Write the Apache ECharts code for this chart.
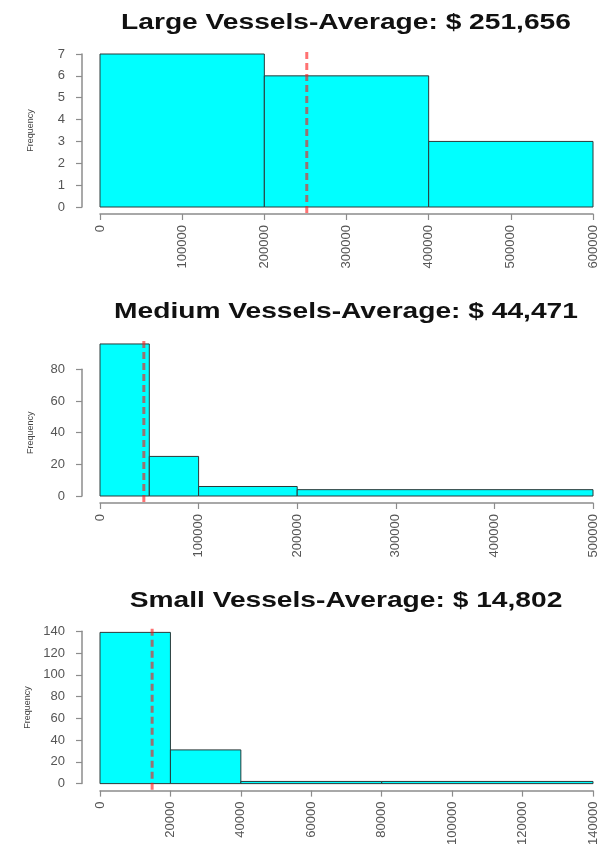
<!DOCTYPE html>
<html>
<head>
<meta charset="utf-8">
<script src="https://cdn.jsdelivr.net/npm/echarts@6/dist/echarts.min.js"></script>
<style>
html,body{margin:0;padding:0;background:#fff;}
#chart{width:614px;height:848px;}
</style>
</head>
<body>
<div id="chart"></div>
<script>
// ---- data ----
const titles = [
  'Large Vessels-Average: $ 251,656',
  'Medium Vessels-Average: $ 44,471',
  'Small Vessels-Average: $ 14,802'
];
const largeBreaks = [0, 200000, 400000, 600000];
const largeFreq = [7, 6, 3];
const largeMean = 251656;

const mediumBreaks = [0, 50000, 100000, 200000, 500000];
const mediumFreq = [96, 25, 6, 4];
const mediumMean = 44471;

const smallBreaks = [0, 20000, 40000, 80000, 140000];
const smallFreq = [139, 31, 2, 2];
const smallMean = 14802;

const xTicks = [
  {max: 600000, interval: 100000},
  {max: 500000, interval: 100000},
  {max: 140000, interval: 20000}
];
const yTicks = [
  {max: 7, interval: 1},
  {max: 80, interval: 20},
  {max: 140, interval: 20}
];
const yName = 'Frequency';

// ---- layout ----
const grids = [
  {left: 100, right: 21, top: 54, height: 153},
  {left: 100, right: 21, top: 369.3, height: 126.7},
  {left: 100, right: 21, top: 631.3, height: 153.7}
];
const titleY = [22.8, 311.8, 601];

const panels = [
  {breaks: largeBreaks, freq: largeFreq, mean: largeMean},
  {breaks: mediumBreaks, freq: mediumFreq, mean: mediumMean},
  {breaks: smallBreaks, freq: smallFreq, mean: smallMean}
];

const axisColor = '#8c8c8c';
const labelColor = '#555';
const fontFamily = '"Liberation Sans", Arial, sans-serif';

const xAxes = [], yAxes = [], series = [], graphics = [];
panels.forEach((p, i) => {
  xAxes.push({
    type: 'value', gridIndex: i, min: 0, max: xTicks[i].max, interval: xTicks[i].interval,
    offset: 7,
    axisLine: {show: true, onZero: false, lineStyle: {color: axisColor, width: 1.5}},
    axisTick: {show: true, length: 6, lineStyle: {color: axisColor, width: 1.2}},
    splitLine: {show: false},
    axisLabel: {
      rotate: 90, margin: 11, color: labelColor, fontSize: 13, fontFamily: fontFamily,
      showMinLabel: true, showMaxLabel: true, hideOverlap: false,
      formatter: v => String(v)
    }
  });
  yAxes.push({
    type: 'value', gridIndex: i, min: 0, max: yTicks[i].max, interval: yTicks[i].interval,
    offset: 18,
    name: yName, nameLocation: 'middle', nameGap: 47, nameRotate: 90,
    nameTextStyle: {color: '#444', fontSize: 9, fontFamily: fontFamily},
    axisLine: {show: true, onZero: false, lineStyle: {color: axisColor, width: 1.5}},
    axisTick: {show: true, length: 6, lineStyle: {color: axisColor, width: 1.2}},
    splitLine: {show: false},
    axisLabel: {margin: 17, color: labelColor, fontSize: 13, fontFamily: fontFamily,
      showMinLabel: true, showMaxLabel: true}
  });
  const binData = p.freq.map((f, k) => [p.breaks[k], p.breaks[k + 1], f]);
  series.push({
    type: 'custom', xAxisIndex: i, yAxisIndex: i, clip: false, z: 2,
    data: binData,
    encode: {x: [0, 1], y: 2},
    renderItem: function (params, api) {
      const a = api.coord([api.value(0), 0]);
      const b = api.coord([api.value(1), api.value(2)]);
      return {
        type: 'rect',
        shape: {x: a[0], y: b[1], width: b[0] - a[0], height: a[1] - b[1]},
        style: {fill: '#00ffff', stroke: '#2a3a3a', lineWidth: 1}
      };
    }
  });
  const fmax = Math.max.apply(null, p.freq);
  series.push({
    type: 'line', xAxisIndex: i, yAxisIndex: i, clip: false, z: 4,
    symbol: 'none', silent: true,
    data: [[p.mean, -0.04 * fmax], [p.mean, 1.04 * fmax]],
    lineStyle: {color: 'rgba(255,20,20,0.6)', width: 3, type: [7, 4]}
  });
  graphics.push({
    type: 'text', x: 346, y: titleY[i], scaleX: 1.28,
    style: {
      text: titles[i], font: 'bold 22px "Liberation Sans", Arial, sans-serif',
      fill: '#111', align: 'center', verticalAlign: 'middle'
    }
  });
});

const chart = echarts.init(document.getElementById('chart'), null, {renderer: 'canvas'});
chart.setOption({
  animation: false,
  backgroundColor: '#fff',
  grid: grids,
  xAxis: xAxes,
  yAxis: yAxes,
  series: series,
  graphic: graphics
});
</script>
</body>
</html>
